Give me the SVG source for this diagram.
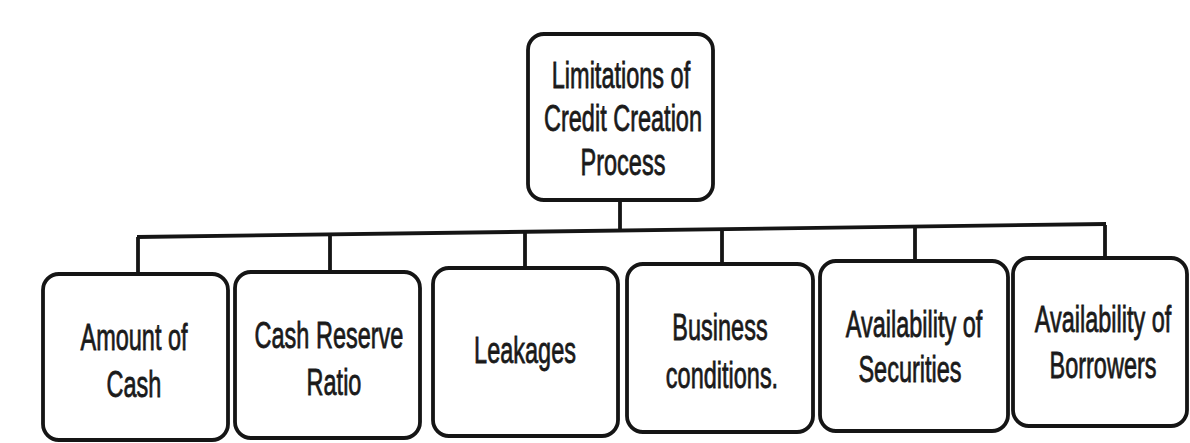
<svg xmlns="http://www.w3.org/2000/svg" width="1190" height="443" viewBox="0 0 1190 443">
<style>
.box{fill:#fff;stroke:#151515;stroke-width:3.8}
.t{font-family:"Liberation Sans",Arial,sans-serif;font-size:37px;fill:#1a1a1a;stroke:#1a1a1a;stroke-width:0.8;text-anchor:middle}
.c{fill:none;stroke:#151515;stroke-width:3.8}
</style>
<rect width="1190" height="443" fill="#fff"/>
<g id="connectors">
<line class="c" x1="620" y1="200" x2="620" y2="231"/>
<line class="c" x1="137" y1="237" x2="1106" y2="224"/>
<line class="c" x1="138" y1="237" x2="138" y2="274"/>
<line class="c" x1="330" y1="235" x2="330" y2="272"/>
<line class="c" x1="525" y1="233" x2="525" y2="268"/>
<line class="c" x1="722" y1="230" x2="722" y2="264"/>
<line class="c" x1="915" y1="228" x2="915" y2="261"/>
<line class="c" x1="1105" y1="225" x2="1105" y2="258"/>
</g>
<g id="root">
<rect class="box" x="528" y="34" width="185" height="166" rx="16"/>
<text class="t" transform="translate(621,88) scale(0.635,1)">Limitations of</text>
<text class="t" transform="translate(623,131) scale(0.635,1)">Credit Creation</text>
<text class="t" transform="translate(623,175) scale(0.635,1)">Process</text>
</g>
<g id="n1">
<rect class="box" x="43" y="274" width="185" height="166" rx="16"/>
<text class="t" transform="translate(134,350) scale(0.635,1)">Amount of</text>
<text class="t" transform="translate(134,397) scale(0.635,1)">Cash</text>
</g>
<g id="n2">
<rect class="box" x="235" y="272" width="185" height="166" rx="16"/>
<text class="t" transform="translate(329,348) scale(0.635,1)">Cash Reserve</text>
<text class="t" transform="translate(334,395) scale(0.635,1)">Ratio</text>
</g>
<g id="n3">
<rect class="box" x="433" y="268" width="185" height="168" rx="16"/>
<text class="t" transform="translate(525,363) scale(0.635,1)">Leakages</text>
</g>
<g id="n4">
<rect class="box" x="627" y="264" width="186" height="168" rx="16"/>
<text class="t" transform="translate(720,340) scale(0.635,1)">Business</text>
<text class="t" transform="translate(722,388) scale(0.635,1)">conditions.</text>
</g>
<g id="n5">
<rect class="box" x="820" y="261" width="188" height="170" rx="16"/>
<text class="t" transform="translate(914,337) scale(0.635,1)">Availability of</text>
<text class="t" transform="translate(910,382) scale(0.635,1)">Securities</text>
</g>
<g id="n6">
<rect class="box" x="1013" y="258" width="174" height="168" rx="16"/>
<text class="t" transform="translate(1103,332) scale(0.635,1)">Availability of</text>
<text class="t" transform="translate(1103,378) scale(0.635,1)">Borrowers</text>
</g>
</svg>
